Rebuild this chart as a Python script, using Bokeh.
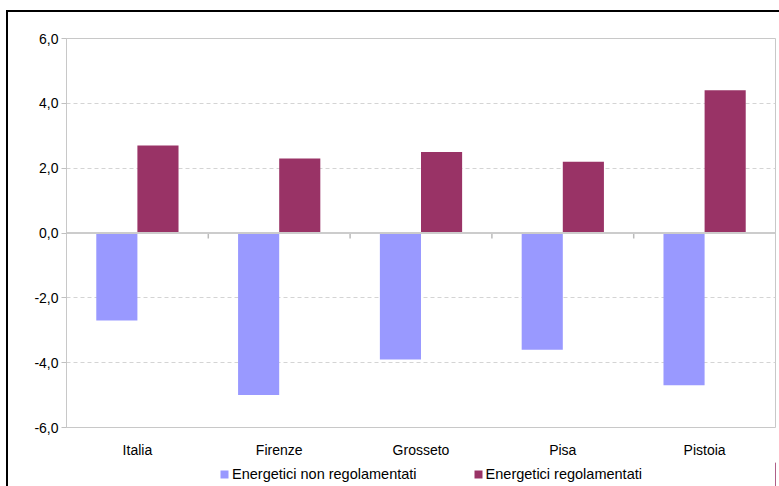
from bokeh.plotting import figure
from bokeh.models import (FixedTicker, Span, Legend, LegendItem, Range1d)
from bokeh.layouts import column
from bokeh.embed import file_html
from bokeh.resources import INLINE

categories = ["Italia", "Firenze", "Grosseto", "Pisa", "Pistoia"]
non_regolamentati = [-2.7, -5.0, -3.9, -3.6, -4.7]
regolamentati = [2.7, 2.3, 2.5, 2.2, 4.4]
y_ticks = [-6, -4, -2, 0, 2, 4, 6]
y_labels = ["-6,0", "-4,0", "-2,0", "0,0", "2,0", "4,0", "6,0"]
series_names = ["Energetici non regolamentati", "Energetici regolamentati"]
colors = ["#9999FF", "#993366"]

FONT = "Liberation Sans"
n = len(categories)
centers = [i + 0.5 for i in range(n)]
bw = 0.29
x_blue = [c - bw / 2 for c in centers]
x_red = [c + bw / 2 for c in centers]

p = figure(width=771, height=450, output_backend="svg", toolbar_location=None,
           x_range=Range1d(0, n), y_range=Range1d(-6, 6),
           min_border_left=58, min_border_right=4, min_border_top=26, min_border_bottom=35)
p.background_fill_color = "white"
p.border_fill_color = "white"
p.outline_line_color = "#c8c8c8"
p.outline_line_width = 1

# grid
p.xgrid.visible = False
p.ygrid.ticker = FixedTicker(ticks=[t for t in y_ticks if t not in (-6, 0, 6)])
p.ygrid.grid_line_color = "#d4d4d4"
p.ygrid.grid_line_dash = "4 3"
p.ygrid.grid_line_width = 1

# bars
p.vbar(x=x_blue, top=non_regolamentati, bottom=0, width=bw,
       fill_color=colors[0], line_color=None)
p.vbar(x=x_red, top=regolamentati, bottom=0, width=bw,
       fill_color=colors[1], line_color=None)

# zero line
p.add_layout(Span(location=0, dimension="width", line_color="#cccccc", line_width=2))
# boundary ticks on zero line
bounds = list(range(1, n))
p.segment(x0=bounds, x1=bounds, y0=[0] * len(bounds), y1=[-0.17] * len(bounds),
          line_color="#bbbbbb", line_width=1.5)

# y axis
p.yaxis.ticker = FixedTicker(ticks=y_ticks)
p.yaxis.major_label_overrides = {t: l for t, l in zip(y_ticks, y_labels)}
p.yaxis.major_tick_out = 5
p.yaxis.major_tick_in = 0
p.yaxis.minor_tick_line_color = None
p.yaxis.major_tick_line_color = "#c0c0c0"
p.yaxis.axis_line_color = "#c8c8c8"
p.yaxis.major_label_standoff = 3
p.yaxis.major_label_text_font = FONT
p.yaxis.major_label_text_font_size = "14px"
p.yaxis.major_label_text_color = "#000000"

# x axis
p.xaxis.ticker = FixedTicker(ticks=centers)
p.xaxis.major_label_overrides = {c: name for c, name in zip(centers, categories)}
p.xaxis.major_tick_line_color = None
p.xaxis.minor_tick_line_color = None
p.xaxis.axis_line_color = None
p.xaxis.major_label_standoff = 8
p.xaxis.major_label_text_font = FONT
p.xaxis.major_label_text_font_size = "14px"
p.xaxis.major_label_text_color = "#000000"

# legend strip (separate small figure so the legend is not clipped);
# its bars use the same data but lie outside its visible range
lf = figure(width=771, height=24, output_backend="svg", toolbar_location=None,
            x_range=Range1d(-20, -10), y_range=Range1d(0, 1),
            min_border_left=0, min_border_right=0, min_border_top=0, min_border_bottom=0)
lf.axis.visible = False
lf.grid.visible = False
lf.outline_line_color = None
lf.background_fill_color = "white"
lf.border_fill_color = "white"
l1 = lf.vbar(x=x_blue, top=non_regolamentati, width=bw, fill_color=colors[0], line_color=None)
l2 = lf.vbar(x=x_red, top=regolamentati, width=bw, fill_color=colors[1], line_color=None)
legend = Legend(items=[LegendItem(label=series_names[0], renderers=[l1]),
                       LegendItem(label=series_names[1], renderers=[l2])],
                orientation="horizontal", location=(153, 4))
legend.glyph_width = 10
legend.glyph_height = 10
legend.label_standoff = 3
legend.spacing = 56
legend.padding = 0
legend.margin = 0
legend.border_line_color = None
legend.background_fill_alpha = 0
legend.label_text_font = FONT
legend.label_text_font_size = "14.5px"
legend.label_text_color = "#000000"
lf.add_layout(legend, "center")

layout = column(p, lf, spacing=0)
layout.styles = {"border-left": "2px solid #000000", "border-top": "2px solid #000000",
                 "margin-top": "10px", "margin-left": "6px"}

open("out.html", "w").write(file_html(layout, INLINE))
